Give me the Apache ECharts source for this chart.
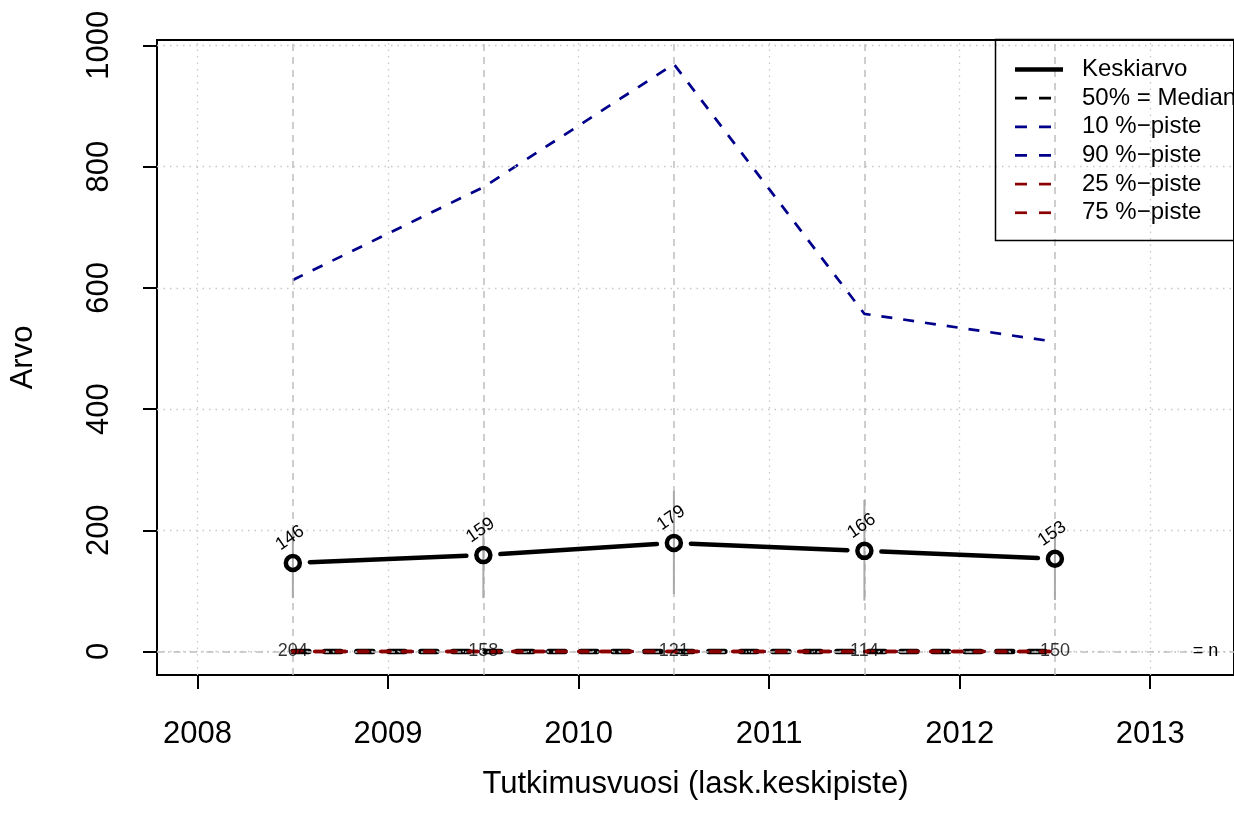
<!DOCTYPE html>
<html>
<head>
<meta charset="utf-8">
<script src="https://cdn.jsdelivr.net/npm/echarts@6/dist/echarts.min.js"></script>
<style>
  html, body { margin: 0; padding: 0; background: #fff; }
  #chart { width: 1234px; height: 828px; }
</style>
</head>
<body>
<div id="chart"></div>
<script>
// data
var years = [2008.5, 2009.5, 2010.5, 2011.5, 2012.5];
var meanVals = [146, 159, 179, 166, 153];
var ciLow = [88, 88, 95, 84, 85];
var ciHigh = [205, 218, 265, 250, 207];
var p10 = [0, 0, 0, 0, 0];
var p90 = [613, 766, 969, 557, 511];
var p25 = [0, 0, 0, 0, 0];
var p50 = [0, 0, 0, 0, 0];
var p75 = [0, 0, 0, 0, 0];
var nVals = [204, 158, 121, 114, 150];
var xTicks = [2008, 2009, 2010, 2011, 2012, 2013];
var yTicks = [0, 200, 400, 600, 800, 1000];
var nLabelX = 2013.29;

var FONT = "'Liberation Sans', Arial, sans-serif";
var BLUE = "#00008B";
var RED = "#8B0000";

var chart = echarts.init(document.getElementById("chart"));

function pairs(vals) {
  return years.map(function (y, i) { return [y, vals[i]]; });
}

var meanSegs = years.slice(0, -1).map(function (y, i) {
  return [y, meanVals[i], years[i + 1], meanVals[i + 1]];
});

var gridLines = []
  .concat(yTicks.map(function (v) {
    return { yAxis: v, lineStyle: { color: "#c8c8c8", width: 1.3, type: [1.5, 5] } };
  }))
  .concat(xTicks.map(function (v) {
    return { xAxis: v, lineStyle: { color: "#c8c8c8", width: 1.3, type: [1.5, 5] } };
  }))
  .concat(years.map(function (v) {
    return { xAxis: v, lineStyle: { color: "#bebebe", width: 1.5, type: [7, 6] } };
  }))
  .concat([{ yAxis: 0, lineStyle: { color: "#bebebe", width: 1.5, type: [7, 4, 1.5, 4] } }]);

function dashLine(name, vals, color, width, dash, z, cap) {
  return {
    name: name,
    type: "line",
    data: pairs(vals),
    symbol: "none",
    z: z,
    lineStyle: { color: color, width: width, type: dash, cap: cap || "butt" }
  };
}

var legendItems = [
  { text: "Keskiarvo", color: "#000", width: 4.5, dash: null },
  { text: "50% = Median", color: "#000", width: 2.7, dash: [12, 12] },
  { text: "10 %\u2212piste", color: BLUE, width: 2.7, dash: [12, 12] },
  { text: "90 %\u2212piste", color: BLUE, width: 2.7, dash: [12, 12] },
  { text: "25 %\u2212piste", color: RED, width: 2.7, dash: [12, 12] },
  { text: "75 %\u2212piste", color: RED, width: 2.7, dash: [12, 12] }
];
var legendGraphic = [{
  type: "rect",
  shape: { x: 995.5, y: 39.5, width: 300, height: 201 },
  style: { fill: "none", stroke: "#000", lineWidth: 1.5 },
  z: 100
}];
legendItems.forEach(function (it, i) {
  var y = 69.5 + i * 28.65;
  legendGraphic.push({
    type: "line",
    shape: { x1: 1015, y1: y, x2: 1063, y2: y },
    style: { stroke: it.color, lineWidth: it.width, lineDash: it.dash, lineCap: "butt" },
    z: 100
  });
  legendGraphic.push({
    type: "text",
    x: 1082, y: y,
    style: { text: it.text, fontSize: 24, fontFamily: FONT, fill: "#000", textVerticalAlign: "middle" },
    z: 100
  });
});

var option = {
  animation: false,
  backgroundColor: "#fff",
  textStyle: { fontFamily: FONT },
  grid: {
    left: 155, top: 40, right: -8, bottom: 153,
    show: true, borderColor: "#000", borderWidth: 2, backgroundColor: "transparent"
  },
  xAxis: {
    type: "value",
    min: 2007.787, max: 2013.44,
    name: "Tutkimusvuosi (lask.keskipiste)",
    nameLocation: "middle",
    nameGap: 94,
    nameTextStyle: { fontSize: 31, color: "#000", fontFamily: FONT },
    axisLine: { show: false, onZero: false },
    splitLine: { show: false },
    axisTick: { show: true, length: 14, customValues: xTicks, lineStyle: { color: "#000", width: 2 } },
    axisLabel: {
      customValues: xTicks, margin: 44, fontSize: 31, color: "#000", fontFamily: FONT,
      formatter: function (v) { return String(v); }
    }
  },
  yAxis: {
    type: "value",
    min: -38.8, max: 1008.8,
    name: "Arvo",
    nameLocation: "middle",
    nameGap: 118,
    nameRotate: 90,
    nameTextStyle: { fontSize: 31, color: "#000", fontFamily: FONT },
    axisLine: { show: false, onZero: false },
    splitLine: { show: false },
    axisTick: { show: true, length: 14, customValues: yTicks, lineStyle: { color: "#000", width: 2 } },
    axisLabel: {
      customValues: yTicks, rotate: 90, margin: 42, fontSize: 31, color: "#000", fontFamily: FONT,
      formatter: function (v) { return String(v); }
    }
  },
  graphic: legendGraphic,
  series: [
    {
      name: "grid",
      type: "line",
      data: pairs(p90),
      symbol: "none",
      silent: true,
      z: 1,
      lineStyle: { opacity: 0 },
      markLine: {
        silent: true,
        symbol: "none",
        label: { show: false },
        data: gridLines
      }
    },
    dashLine("90 %-piste", p90, BLUE, 2.7, [11, 11], 3),
    dashLine("10 %-piste", p10, BLUE, 2.7, [11, 11], 3),
    dashLine("50% = Median", p50, "#000", 5.5, [16, 16], 4, "round"),
    dashLine("25 %-piste", p25, RED, 3.5, [9, 13], 5, "round"),
    dashLine("75 %-piste", p75, RED, 3.5, [9, 13], 5, "round"),
    {
      name: "Keskiarvo",
      type: "custom",
      data: meanSegs,
      encode: { x: [0, 2], y: [1, 3] },
      z: 6,
      renderItem: function (params, api) {
        var a = api.coord([api.value(0), api.value(1)]);
        var b = api.coord([api.value(2), api.value(3)]);
        var dx = b[0] - a[0], dy = b[1] - a[1];
        var len = Math.sqrt(dx * dx + dy * dy);
        var ux = dx / len, uy = dy / len, gap = 17;
        return {
          type: "line",
          shape: { x1: a[0] + ux * gap, y1: a[1] + uy * gap, x2: b[0] - ux * gap, y2: b[1] - uy * gap },
          style: { stroke: "#000", lineWidth: 4.5, lineCap: "round" }
        };
      }
    },
    {
      name: "ci",
      type: "custom",
      data: years.map(function (y, i) { return [y, ciLow[i], ciHigh[i]]; }),
      encode: { x: 0, y: [1, 2] },
      z: 7,
      renderItem: function (params, api) {
        var a = api.coord([api.value(0), api.value(1)]);
        var b = api.coord([api.value(0), api.value(2)]);
        return {
          type: "line",
          shape: { x1: a[0], y1: a[1], x2: b[0], y2: b[1] },
          style: { stroke: "#a9a9a9", lineWidth: 2 }
        };
      }
    },
    {
      name: "Keskiarvo points",
      type: "scatter",
      data: pairs(meanVals),
      symbol: "circle",
      symbolSize: 14,
      z: 8,
      itemStyle: { color: "rgba(0,0,0,0)", borderColor: "#000", borderWidth: 4.5, opacity: 1 },
      label: {
        show: true,
        position: "inside",
        offset: [12, -22],
        rotate: 35,
        align: "center",
        verticalAlign: "middle",
        fontSize: 18,
        color: "#000",
        fontFamily: FONT,
        formatter: function (p) { return String(p.value[1]); }
      }
    },
    {
      name: "n",
      type: "scatter",
      data: years.map(function (y, i) { return [y, 0, nVals[i]]; }),
      symbolSize: 0,
      z: 9,
      label: {
        show: true,
        position: "inside",
        fontSize: 18,
        color: "#000",
        fontFamily: FONT,
        formatter: function (p) { return String(p.value[2]); }
      },
      markPoint: {
        symbol: "circle",
        symbolSize: 0,
        label: { show: true, position: "inside", fontSize: 18, color: "#000", fontFamily: FONT, formatter: "= n" },
        data: [{ coord: [nLabelX, 0] }]
      }
    }
  ]
};

chart.setOption(option);
</script>
</body>
</html>
